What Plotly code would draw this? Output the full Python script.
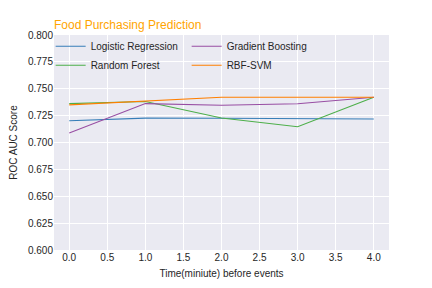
import plotly.graph_objects as go

minutes = [0, 1, 2, 3, 4]
models = ["Logistic Regression", "Random Forest", "Gradient Boosting", "RBF-SVM"]
logistic_regression = [0.7203, 0.7227, 0.7225, 0.7218, 0.7218]
random_forest = [0.7362, 0.7381, 0.7228, 0.7147, 0.7421]
gradient_boosting = [0.7088, 0.7362, 0.7346, 0.7360, 0.7421]
rbf_svm = [0.7350, 0.7384, 0.7421, 0.7421, 0.7421]
series = [logistic_regression, random_forest, gradient_boosting, rbf_svm]
colors = ["#377eb8", "#4daf4a", "#984ea3", "#ff7f00"]
ranks = [1, 3, 2, 4]
x_ticks = [0, 0.5, 1, 1.5, 2, 2.5, 3, 3.5, 4]
y_ticks = [0.600, 0.625, 0.650, 0.675, 0.700, 0.725, 0.750, 0.775, 0.800]

fig = go.Figure()
for name, vals, c, r in zip(models, series, colors, ranks):
    fig.add_trace(go.Scatter(x=minutes, y=vals, mode="lines", name=name,
                             line=dict(color=c, width=1.1), legendrank=r))

font = "Liberation Sans, Arial, sans-serif"
# page body has an 8px default margin, so the figure is 8px smaller each way
fig.update_layout(
    width=424, height=280,
    margin=dict(l=46, r=43, t=27, b=38),
    paper_bgcolor="white", plot_bgcolor="#EAEAF2",
    font=dict(family=font, size=10, color="#262626"),
    title=dict(text="Food Purchasing Prediction", x=46/424, xanchor="left",
               y=1-17/280, yanchor="middle",
               font=dict(size=12, color="#FFA500", family=font)),
    showlegend=True,
    legend=dict(orientation="h", x=-0.01, y=1.015, xanchor="left", yanchor="top",
                bgcolor="rgba(0,0,0,0)", font=dict(size=10, color="#262626"),
                entrywidth=91, entrywidthmode="pixels", itemwidth=30,
                tracegroupgap=0),
    xaxis=dict(range=[-0.2, 4.2], tickvals=x_ticks,
               ticktext=[f"{v:.1f}" for v in x_ticks], automargin=False,
               showgrid=True, gridcolor="white", gridwidth=1, zeroline=False,
               showline=False, ticks="", tickfont=dict(size=10),
               title=dict(text="Time(miniute) before events", font=dict(size=10), standoff=7)),
    yaxis=dict(range=[0.6, 0.8], tickvals=y_ticks,
               ticktext=[f"{v:.3f}" for v in y_ticks], automargin=False,
               showgrid=True, gridcolor="white", gridwidth=1, zeroline=False,
               showline=False, ticks="", tickfont=dict(size=10),
               title=dict(text="ROC AUC Score", font=dict(size=10), standoff=8)),
)
fig.write_html("out.html")
